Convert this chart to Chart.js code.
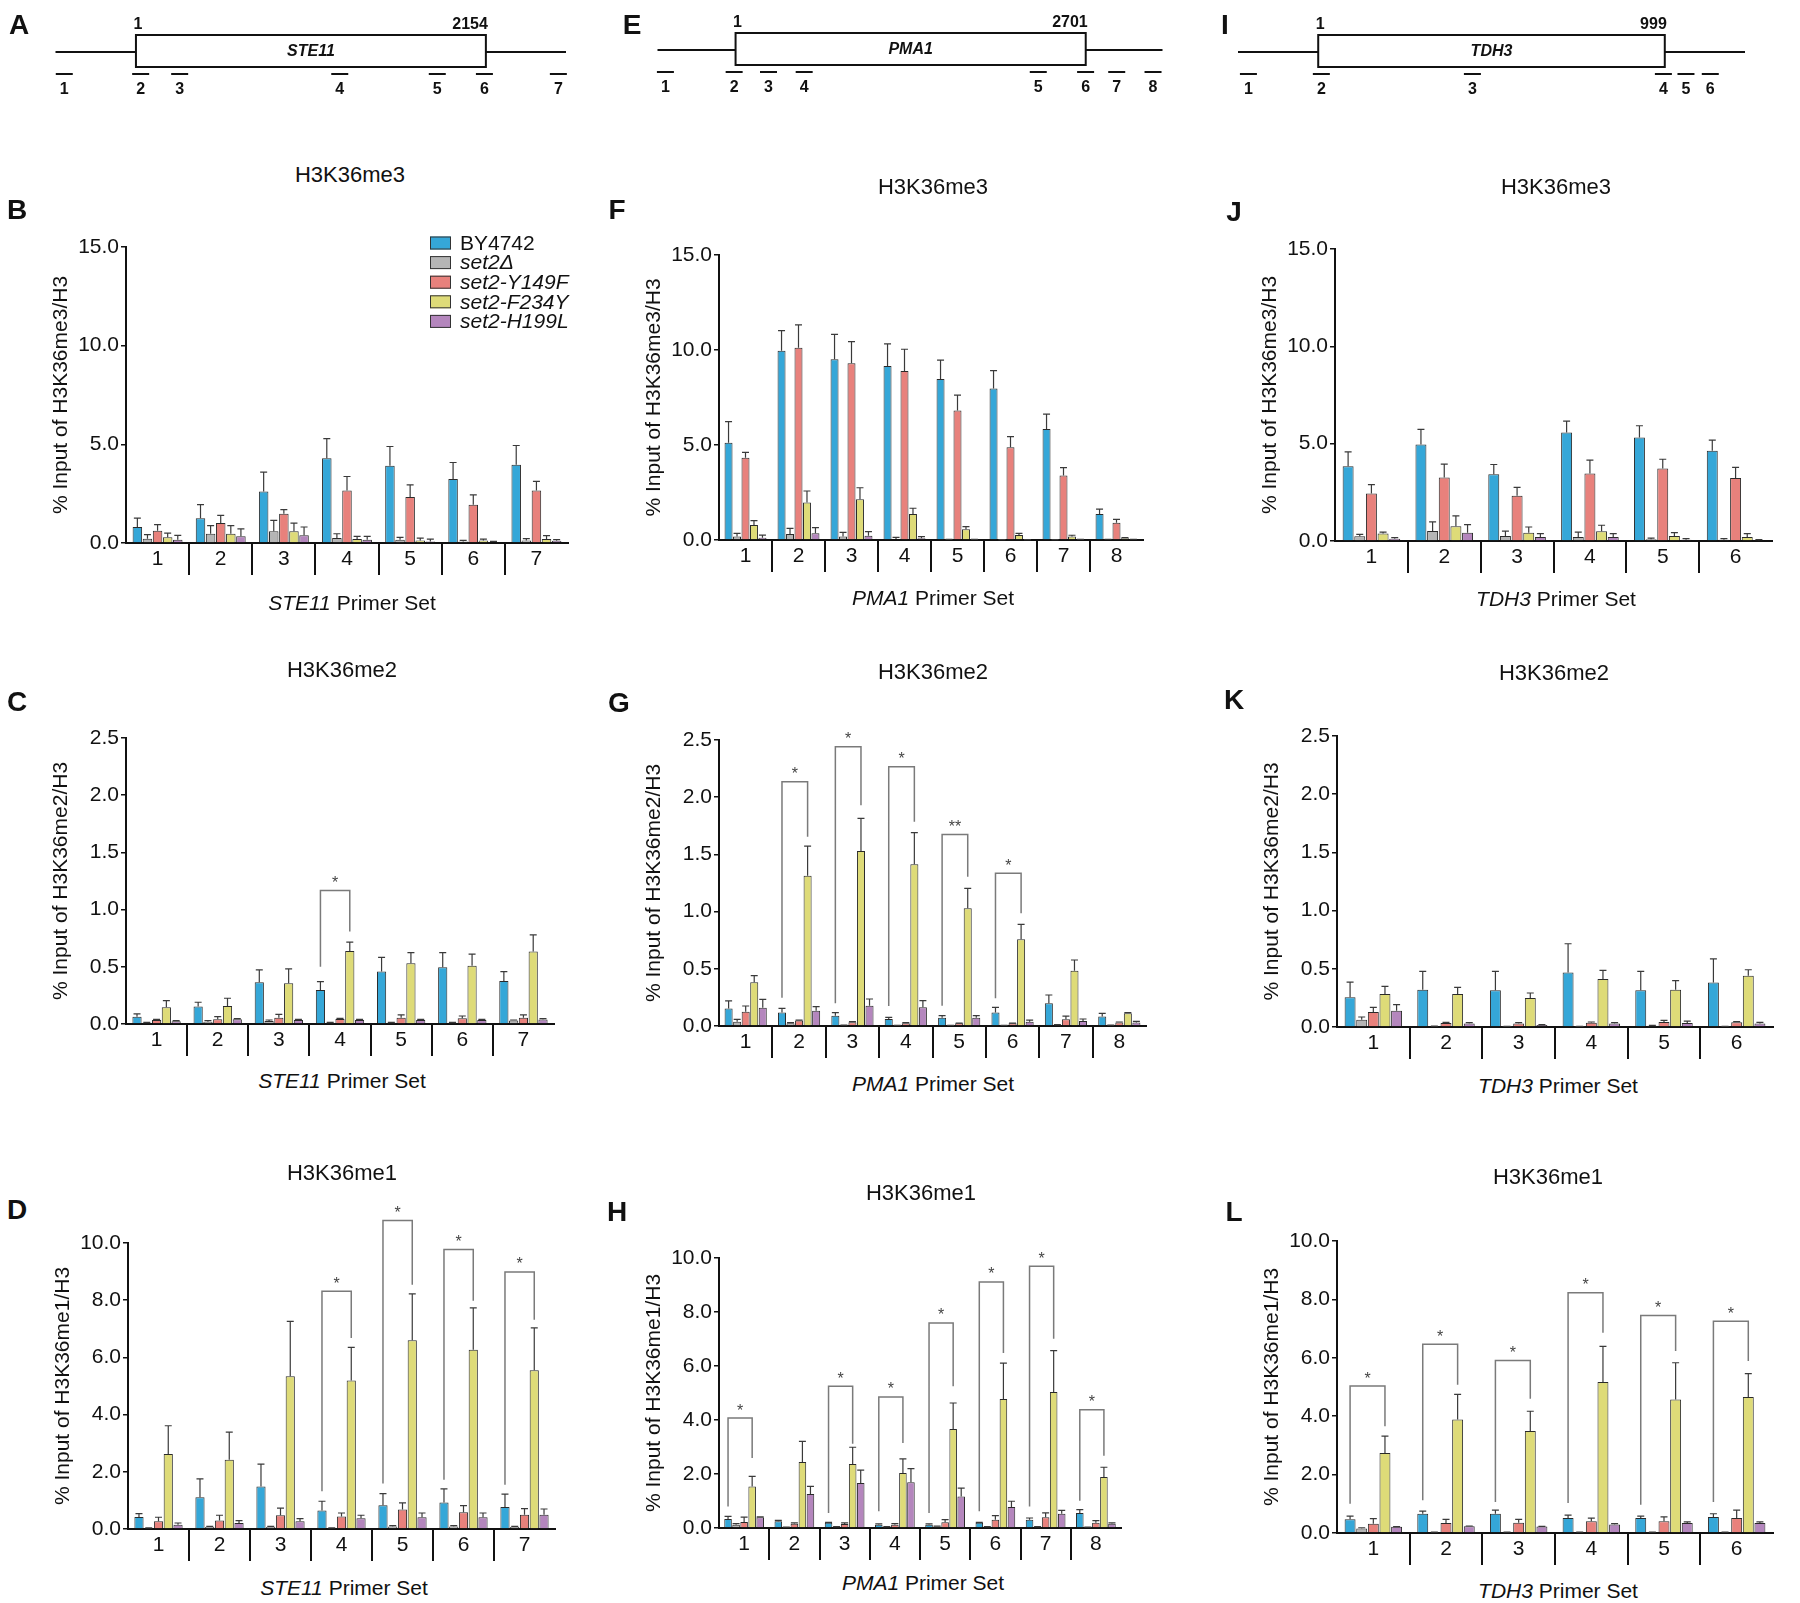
<!DOCTYPE html>
<html>
<head>
<meta charset="utf-8">
<script src="https://cdn.jsdelivr.net/npm/chart.js@4.4.0/dist/chart.umd.min.js"></script>
<style>
  body { margin: 0; background: #fff; width: 1800px; height: 1603px; position: relative; overflow: hidden;
         font-family: "Liberation Sans", Arial, sans-serif; color: #111; }
  canvas { position: absolute; }
  .t { position: absolute; transform: translate(-50%, -50%); white-space: nowrap; font-size: 21px; line-height: 1; z-index: 2; }
  .ttl { font-size: 22px; }
  .lt { font-size: 28px; font-weight: bold; }
</style>
</head>
<body>
<script>
const strains = ['BY4742', 'set2Δ', 'set2-Y149F', 'set2-F234Y', 'set2-H199L'];
const colors = ['#35a7d8', '#b5b5b5', '#e8817c', '#dedb78', '#b486bd'];

const ste11Sets = ['1', '2', '3', '4', '5', '6', '7'];
const pma1Sets = ['1', '2', '3', '4', '5', '6', '7', '8'];
const tdh3Sets = ['1', '2', '3', '4', '5', '6'];

// gene maps (bp): ORF length, drawn span, primer centres
const ste11Len = 2154, ste11Span = [-494, 2647];
const ste11Primers = [-440, 30, 270, 1255, 1855, 2145, 2600];
const pma1Len = 2701, pma1Span = [-601, 3293];
const pma1Primers = [-540, -10, 255, 530, 2335, 2700, 2940, 3220];
const tdh3Len = 999, tdh3Span = [-230, 1230];
const tdh3Primers = [-200, 10, 445, 995, 1060, 1130];

// means and errors, one row per strain (BY4742, set2Δ, Y149F, F234Y, H199L)
// H3K36me3
const B_means = [
  [0.81, 1.26, 2.61, 4.30, 3.91, 3.24, 3.96],
  [0.22, 0.47, 0.59, 0.25, 0.17, 0.08, 0.13],
  [0.62, 1.01, 1.48, 2.66, 2.33, 1.94, 2.66],
  [0.29, 0.47, 0.59, 0.20, 0.13, 0.13, 0.20],
  [0.17, 0.34, 0.39, 0.17, 0.08, 0.05, 0.12]
];
const B_errs = [
  [0.45, 0.68, 0.98, 0.99, 0.98, 0.84, 0.98],
  [0.20, 0.41, 0.56, 0.22, 0.12, 0.05, 0.09],
  [0.31, 0.39, 0.21, 0.71, 0.62, 0.50, 0.46],
  [0.21, 0.41, 0.42, 0.14, 0.12, 0.07, 0.17],
  [0.22, 0.38, 0.42, 0.17, 0.12, 0.03, 0.05]
];
const F_means = [
  [5.12, 9.96, 9.51, 9.16, 8.47, 7.98, 5.84, 1.37],
  [0.18, 0.32, 0.18, 0.05, 0.02, 0.01, 0.01, 0.03],
  [4.33, 10.12, 9.30, 8.89, 6.81, 4.88, 3.39, 0.91],
  [0.79, 1.98, 2.14, 1.37, 0.56, 0.26, 0.18, 0.09],
  [0.12, 0.35, 0.23, 0.09, 0.02, 0.01, 0.02, 0.03]
];
const F_errs = [
  [1.11, 1.06, 1.31, 1.16, 1.00, 0.93, 0.79, 0.26],
  [0.17, 0.29, 0.22, 0.09, 0.01, 0.01, 0.01, 0.01],
  [0.28, 1.20, 1.14, 1.15, 0.82, 0.56, 0.42, 0.18],
  [0.23, 0.60, 0.61, 0.30, 0.14, 0.09, 0.07, 0.03],
  [0.14, 0.30, 0.21, 0.09, 0.01, 0.01, 0.01, 0.01]
];
const J_means = [
  [3.84, 4.96, 3.43, 5.58, 5.32, 4.63],
  [0.24, 0.51, 0.26, 0.21, 0.09, 0.07],
  [2.44, 3.26, 2.32, 3.47, 3.72, 3.24],
  [0.38, 0.76, 0.43, 0.50, 0.26, 0.21],
  [0.12, 0.43, 0.21, 0.21, 0.07, 0.03]
];
const J_errs = [
  [0.74, 0.77, 0.50, 0.58, 0.60, 0.55],
  [0.10, 0.47, 0.25, 0.25, 0.06, 0.05],
  [0.46, 0.69, 0.43, 0.68, 0.48, 0.54],
  [0.08, 0.53, 0.29, 0.31, 0.17, 0.17],
  [0.05, 0.41, 0.17, 0.17, 0.05, 0.04]
];

// H3K36me2
const C_means = [
  [0.064, 0.152, 0.365, 0.298, 0.458, 0.496, 0.376],
  [0.010, 0.020, 0.026, 0.010, 0.010, 0.010, 0.030],
  [0.035, 0.041, 0.055, 0.044, 0.055, 0.050, 0.055],
  [0.146, 0.158, 0.356, 0.639, 0.531, 0.510, 0.633],
  [0.023, 0.041, 0.035, 0.035, 0.035, 0.035, 0.040]
];
const C_errs = [
  [0.024, 0.038, 0.108, 0.072, 0.125, 0.128, 0.082],
  [0.005, 0.010, 0.009, 0.004, 0.004, 0.004, 0.005],
  [0.005, 0.023, 0.030, 0.006, 0.024, 0.020, 0.024],
  [0.058, 0.067, 0.125, 0.076, 0.093, 0.100, 0.146],
  [0.007, 0.006, 0.005, 0.005, 0.005, 0.005, 0.007]
];
const G_means = [
  [0.154, 0.117, 0.090, 0.061, 0.073, 0.119, 0.198, 0.082],
  [0.038, 0.023, 0.005, 0.003, 0.003, 0.003, 0.009, 0.005],
  [0.125, 0.047, 0.032, 0.023, 0.023, 0.023, 0.058, 0.030],
  [0.382, 1.314, 1.530, 1.413, 1.029, 0.758, 0.484, 0.111],
  [0.160, 0.134, 0.178, 0.163, 0.073, 0.038, 0.044, 0.030]
];
const G_errs = [
  [0.065, 0.037, 0.027, 0.015, 0.017, 0.044, 0.073, 0.029],
  [0.020, 0.007, 0.003, 0.002, 0.002, 0.002, 0.003, 0.002],
  [0.050, 0.005, 0.006, 0.007, 0.003, 0.003, 0.029, 0.005],
  [0.058, 0.259, 0.285, 0.277, 0.174, 0.131, 0.093, 0.006],
  [0.073, 0.035, 0.058, 0.058, 0.017, 0.014, 0.017, 0.011]
];
const K_means = [
  [0.255, 0.320, 0.315, 0.469, 0.315, 0.383],
  [0.063, 0.005, 0.003, 0.003, 0.011, 0.003],
  [0.129, 0.034, 0.031, 0.037, 0.043, 0.040],
  [0.283, 0.283, 0.249, 0.412, 0.320, 0.440],
  [0.140, 0.029, 0.017, 0.029, 0.034, 0.029]
];
const K_errs = [
  [0.131, 0.158, 0.163, 0.246, 0.163, 0.203],
  [0.023, 0.002, 0.002, 0.002, 0.003, 0.002],
  [0.040, 0.006, 0.006, 0.006, 0.014, 0.006],
  [0.066, 0.057, 0.043, 0.074, 0.078, 0.052],
  [0.052, 0.008, 0.003, 0.008, 0.017, 0.011]
];

// H3K36me1
const D_means = [
  [0.42, 1.11, 1.49, 0.65, 0.83, 0.93, 0.77],
  [0.03, 0.07, 0.07, 0.03, 0.09, 0.09, 0.07],
  [0.27, 0.30, 0.48, 0.44, 0.68, 0.59, 0.50],
  [2.62, 2.42, 5.34, 5.19, 6.60, 6.27, 5.55],
  [0.15, 0.21, 0.27, 0.38, 0.41, 0.41, 0.50]
];
const D_errs = [
  [0.12, 0.64, 0.78, 0.32, 0.41, 0.47, 0.45],
  [0.01, 0.02, 0.02, 0.01, 0.03, 0.03, 0.02],
  [0.14, 0.18, 0.25, 0.12, 0.23, 0.23, 0.21],
  [0.99, 0.97, 1.92, 1.16, 1.62, 1.46, 1.48],
  [0.06, 0.08, 0.09, 0.10, 0.15, 0.15, 0.20]
];
const H_means = [
  [0.33, 0.25, 0.19, 0.12, 0.12, 0.19, 0.31, 0.56],
  [0.12, 0.02, 0.04, 0.04, 0.06, 0.04, 0.04, 0.02],
  [0.22, 0.16, 0.15, 0.12, 0.21, 0.31, 0.40, 0.19],
  [1.54, 2.44, 2.37, 2.04, 3.67, 4.78, 5.04, 1.89],
  [0.40, 1.26, 1.67, 1.69, 1.17, 0.78, 0.53, 0.16]
];
const H_errs = [
  [0.10, 0.03, 0.02, 0.03, 0.03, 0.02, 0.06, 0.12],
  [0.04, 0.01, 0.01, 0.01, 0.01, 0.01, 0.01, 0.01],
  [0.18, 0.03, 0.04, 0.04, 0.10, 0.15, 0.16, 0.08],
  [0.37, 0.77, 0.62, 0.52, 0.96, 1.33, 1.53, 0.36],
  [0.01, 0.28, 0.47, 0.51, 0.31, 0.21, 0.12, 0.03]
];
const L_means = [
  [0.47, 0.66, 0.66, 0.51, 0.51, 0.55],
  [0.15, 0.02, 0.02, 0.02, 0.02, 0.02],
  [0.32, 0.34, 0.35, 0.40, 0.40, 0.51],
  [2.74, 3.89, 3.49, 5.17, 4.57, 4.66],
  [0.21, 0.23, 0.22, 0.29, 0.34, 0.34]
];
const L_errs = [
  [0.11, 0.09, 0.12, 0.10, 0.07, 0.11],
  [0.03, 0.01, 0.01, 0.01, 0.01, 0.01],
  [0.17, 0.13, 0.12, 0.11, 0.15, 0.27],
  [0.58, 0.86, 0.68, 1.22, 1.26, 0.80],
  [0.01, 0.01, 0.01, 0.03, 0.04, 0.04]
];

// significance brackets: [primer set index, bracket level, BY4742 leg end, F234Y leg end, mark]
const C_sig = [[3, 1.167, 0.50, 0.808, '*']];
const G_sig = [
  [1, 2.136, 0.248, 1.655, '*'], [2, 2.442, 0.198, 1.93, '*'], [3, 2.267, 0.175, 1.786, '*'],
  [4, 1.675, 0.178, 1.305, '**'], [5, 1.335, 0.242, 0.985, '*']
];
const D_sig = [[3, 8.31, 1.32, 6.68, '*'], [4, 10.79, 1.59, 8.54, '*'], [5, 9.77, 1.72, 7.98, '*'], [6, 8.99, 1.55, 7.32, '*']];
const H_sig = [
  [0, 4.07, 0.80, 2.59, '*'], [2, 5.25, 0.56, 3.12, '*'], [3, 4.85, 0.62, 3.15, '*'], [4, 7.59, 0.56, 5.25, '*'],
  [5, 9.11, 0.62, 6.48, '*'], [6, 9.69, 0.80, 7.01, '*'], [7, 4.38, 1.01, 2.68, '*']
];
const L_sig = [
  [0, 5.03, 1.00, 3.66, '*'], [1, 6.46, 1.12, 5.08, '*'], [2, 5.91, 1.06, 4.60, '*'],
  [3, 8.23, 1.03, 6.86, '*'], [4, 7.45, 0.97, 6.23, '*'], [5, 7.25, 1.06, 5.89, '*']
];

const FONT = '"Liberation Sans", Arial, sans-serif';
Chart.defaults.font.family = FONT;
Chart.defaults.color = '#111';

function makeCanvas(left, top, w, h) {
  const c = document.createElement('canvas');
  c.width = w; c.height = h;
  c.style.left = left + 'px'; c.style.top = top + 'px';
  c.style.width = w + 'px'; c.style.height = h + 'px';
  document.body.appendChild(c);
  return c;
}

// upper error whiskers
const errBars = errs => ({
  id: 'errBars',
  afterDatasetsDraw(chart) {
    const { ctx, scales: { y } } = chart;
    ctx.save();
    ctx.strokeStyle = '#3a3a3a';
    ctx.lineWidth = 1.2;
    chart.data.datasets.forEach((ds, i) => {
      chart.getDatasetMeta(i).data.forEach((bar, j) => {
        const v = ds.data[j];
        const y0 = y.getPixelForValue(v), y1 = y.getPixelForValue(v + errs[i][j]);
        ctx.beginPath();
        ctx.moveTo(bar.x, y0); ctx.lineTo(bar.x, y1);
        ctx.moveTo(bar.x - 3.5, y1); ctx.lineTo(bar.x + 3.5, y1);
        ctx.stroke();
      });
    });
    ctx.restore();
  }
});

// BY4742 vs set2-F234Y brackets
const sigMarks = list => ({
  id: 'sigMarks',
  afterDatasetsDraw(chart) {
    const { ctx, scales: { y } } = chart;
    const wt = chart.getDatasetMeta(0).data, f234 = chart.getDatasetMeta(3).data;
    ctx.save();
    ctx.strokeStyle = '#7a7a7a';
    ctx.lineWidth = 1.5;
    ctx.fillStyle = '#444';
    ctx.font = '16px ' + FONT;
    ctx.textAlign = 'center';
    ctx.textBaseline = 'middle';
    list.forEach(([g, lvl, lo1, lo2, mark]) => {
      const x1 = wt[g].x, x2 = f234[g].x, yt = y.getPixelForValue(lvl);
      ctx.beginPath();
      ctx.moveTo(x1, y.getPixelForValue(lo1));
      ctx.lineTo(x1, yt); ctx.lineTo(x2, yt);
      ctx.lineTo(x2, y.getPixelForValue(lo2));
      ctx.stroke();
      ctx.fillText(mark, (x1 + x2) / 2, yt - 7);
    });
    ctx.restore();
  }
});

const strainKey = {
  id: 'strainKey',
  afterDraw(chart) {
    const { ctx, chartArea: a } = chart;
    ctx.save();
    ctx.textBaseline = 'middle';
    chart.data.datasets.forEach((ds, i) => {
      const x = a.left + 304, y = a.top - 4 + i * 19.6;
      ctx.fillStyle = ds.backgroundColor;
      ctx.fillRect(x, y - 6.5, 21, 13);
      ctx.strokeStyle = '#333'; ctx.lineWidth = 1;
      ctx.strokeRect(x + 0.5, y - 6, 20, 12);
      ctx.fillStyle = '#111';
      ctx.font = (i === 0 ? '' : 'italic ') + '21px ' + FONT;
      ctx.fillText(ds.label, x + 30, y + 1);
    });
    ctx.restore();
  }
};

function barPanel(p) {
  const padTop = 60, padRight = 22, yw = 100, xh = 36;
  const left = p.axisX - yw, top = p.topY - padTop;
  const cv = makeCanvas(left, top, p.rightX + padRight - left, p.zeroY + xh - top);
  const plugins = [errBars(p.errs), sigMarks(p.sig || [])];
  if (p.key) plugins.push(strainKey);
  new Chart(cv, {
    type: 'bar',
    data: {
      labels: p.labels,
      datasets: p.means.map((m, i) => ({
        label: strains[i], data: m, backgroundColor: colors[i],
        borderColor: '#2a2a2a', borderWidth: 1,
        barPercentage: 0.94, categoryPercentage: 0.8
      }))
    },
    options: {
      responsive: false, animation: false, events: [],
      layout: { padding: { top: padTop, right: padRight, left: 0, bottom: 0 } },
      plugins: { legend: { display: false }, tooltip: { enabled: false } },
      scales: {
        x: {
          offset: true,
          grid: {
            offset: true, drawOnChartArea: false, tickLength: 32, lineWidth: 2,
            color: c => (c.type === 'tick' && c.index > 0) ? '#111' : 'rgba(0,0,0,0)'
          },
          border: { color: '#111', width: 2 },
          ticks: { padding: -28, font: { size: 21 }, color: '#111' },
          afterFit: s => { s.height = xh; }
        },
        y: {
          min: 0, max: p.yMax,
          ticks: { stepSize: p.yStep, callback: v => v.toFixed(1), padding: 2, font: { size: 21 }, color: '#111' },
          grid: { drawOnChartArea: false, tickLength: 5, color: '#111', lineWidth: 1.5 },
          border: { color: '#111', width: 2 },
          title: { display: true, text: p.yTitle, color: '#111', font: { size: 21 }, padding: { top: 23, bottom: 0 } },
          afterFit: s => { s.width = yw; }
        }
      }
    },
    plugins
  });
}

const geneMap = (name, len) => ({
  id: 'geneMap',
  beforeDatasetsDraw(chart) {
    const { ctx, chartArea: a, scales: { x } } = chart;
    const yl = a.top, b1 = x.getPixelForValue(1), b2 = x.getPixelForValue(len);
    ctx.save();
    ctx.strokeStyle = '#111'; ctx.lineWidth = 2;
    ctx.beginPath(); ctx.moveTo(a.left, yl); ctx.lineTo(a.right, yl); ctx.stroke();
    ctx.fillStyle = '#fff';
    ctx.fillRect(b1, yl - 17, b2 - b1, 32);
    ctx.strokeRect(b1, yl - 17, b2 - b1, 32);
    ctx.fillStyle = '#111';
    ctx.textAlign = 'center'; ctx.textBaseline = 'middle';
    ctx.font = 'italic bold 16px ' + FONT;
    ctx.fillText(name, (b1 + b2) / 2, yl);
    ctx.font = 'bold 16px ' + FONT;
    ctx.fillText('1', b1 + 2, yl - 27);
    ctx.textAlign = 'right';
    ctx.fillText(String(len), b2 + 2, yl - 27);
    ctx.restore();
  },
  afterDatasetsDraw(chart) {
    const { ctx } = chart;
    ctx.save();
    ctx.fillStyle = '#111';
    ctx.font = 'bold 16px ' + FONT;
    ctx.textAlign = 'center'; ctx.textBaseline = 'middle';
    chart.getDatasetMeta(0).data.forEach((pt, i) => ctx.fillText(String(i + 1), pt.x, pt.y + 16));
    ctx.restore();
  }
});

function genePanel(g) {
  const cv = makeCanvas(g.left, 0, 600, 110);
  new Chart(cv, {
    type: 'scatter',
    data: {
      datasets: [{
        data: g.primers.map(v => ({ x: v, y: 0 })),
        pointStyle: 'line', pointRadius: 8.5, pointBorderWidth: 2,
        pointBorderColor: '#111', pointBackgroundColor: '#111', clip: false
      }]
    },
    options: {
      responsive: false, animation: false, events: [],
      layout: { padding: g.pad },
      plugins: { legend: { display: false }, tooltip: { enabled: false } },
      scales: {
        x: { type: 'linear', min: g.span[0], max: g.span[1], display: false },
        y: { min: 0, max: 1, display: false }
      }
    },
    plugins: [geneMap(g.name, g.len)]
  });
}

genePanel({ left: 0, name: 'STE11', len: ste11Len, span: ste11Span, primers: ste11Primers,
            pad: { left: 55.5, right: 34, top: 52, bottom: 36 } });
genePanel({ left: 600, name: 'PMA1', len: pma1Len, span: pma1Span, primers: pma1Primers,
            pad: { left: 57.5, right: 37.5, top: 50, bottom: 38 } });
genePanel({ left: 1200, name: 'TDH3', len: tdh3Len, span: tdh3Span, primers: tdh3Primers,
            pad: { left: 38, right: 55, top: 52, bottom: 36 } });

const me3 = '% Input of H3K36me3/H3', me2 = '% Input of H3K36me2/H3', me1 = '% Input of H3K36me1/H3';
[
  { labels: ste11Sets, means: B_means, errs: B_errs, yMax: 15, yStep: 5, yTitle: me3, axisX: 126, topY: 247, zeroY: 543, rightX: 568, key: true },
  { labels: pma1Sets, means: F_means, errs: F_errs, yMax: 15, yStep: 5, yTitle: me3, axisX: 719, topY: 255, zeroY: 540, rightX: 1143 },
  { labels: tdh3Sets, means: J_means, errs: J_errs, yMax: 15, yStep: 5, yTitle: me3, axisX: 1335, topY: 249, zeroY: 541, rightX: 1772 },
  { labels: ste11Sets, means: C_means, errs: C_errs, sig: C_sig, yMax: 2.5, yStep: 0.5, yTitle: me2, axisX: 126, topY: 738, zeroY: 1024, rightX: 554 },
  { labels: pma1Sets, means: G_means, errs: G_errs, sig: G_sig, yMax: 2.5, yStep: 0.5, yTitle: me2, axisX: 719, topY: 740, zeroY: 1026, rightX: 1146 },
  { labels: tdh3Sets, means: K_means, errs: K_errs, yMax: 2.5, yStep: 0.5, yTitle: me2, axisX: 1337, topY: 736, zeroY: 1027, rightX: 1773 },
  { labels: ste11Sets, means: D_means, errs: D_errs, sig: D_sig, yMax: 10, yStep: 2, yTitle: me1, axisX: 128, topY: 1243, zeroY: 1529, rightX: 555 },
  { labels: pma1Sets, means: H_means, errs: H_errs, sig: H_sig, yMax: 10, yStep: 2, yTitle: me1, axisX: 719, topY: 1258, zeroY: 1528, rightX: 1121 },
  { labels: tdh3Sets, means: L_means, errs: L_errs, sig: L_sig, yMax: 10, yStep: 2, yTitle: me1, axisX: 1337, topY: 1241, zeroY: 1533, rightX: 1773 }
].forEach(barPanel);

// panel letters, titles and x-axis labels
const texts = [
  ['A', 19, 25, 'lt'], ['E', 632, 25, 'lt'], ['I', 1225, 25, 'lt'],
  ['B', 17, 210, 'lt'], ['F', 617, 210, 'lt'], ['J', 1234, 212, 'lt'],
  ['C', 17, 702, 'lt'], ['G', 619, 703, 'lt'], ['K', 1234, 700, 'lt'],
  ['D', 17, 1210, 'lt'], ['H', 617, 1212, 'lt'], ['L', 1234, 1212, 'lt'],
  ['H3K36me3', 350, 175, 'ttl'], ['H3K36me3', 933, 187, 'ttl'], ['H3K36me3', 1556, 187, 'ttl'],
  ['H3K36me2', 342, 670, 'ttl'], ['H3K36me2', 933, 672, 'ttl'], ['H3K36me2', 1554, 673, 'ttl'],
  ['H3K36me1', 342, 1173, 'ttl'], ['H3K36me1', 921, 1193, 'ttl'], ['H3K36me1', 1548, 1177, 'ttl'],
  ['<i>STE11</i> Primer Set', 352, 602, ''], ['<i>PMA1</i> Primer Set', 933, 597, ''], ['<i>TDH3</i> Primer Set', 1556, 598, ''],
  ['<i>STE11</i> Primer Set', 342, 1080, ''], ['<i>PMA1</i> Primer Set', 933, 1083, ''], ['<i>TDH3</i> Primer Set', 1558, 1085, ''],
  ['<i>STE11</i> Primer Set', 344, 1587, ''], ['<i>PMA1</i> Primer Set', 923, 1582, ''], ['<i>TDH3</i> Primer Set', 1558, 1590, '']
];
texts.forEach(([html, x, y, cls]) => {
  const d = document.createElement('div');
  d.className = 't ' + cls;
  d.style.left = x + 'px';
  d.style.top = y + 'px';
  d.innerHTML = html;
  document.body.appendChild(d);
});
</script>
</body>
</html>
